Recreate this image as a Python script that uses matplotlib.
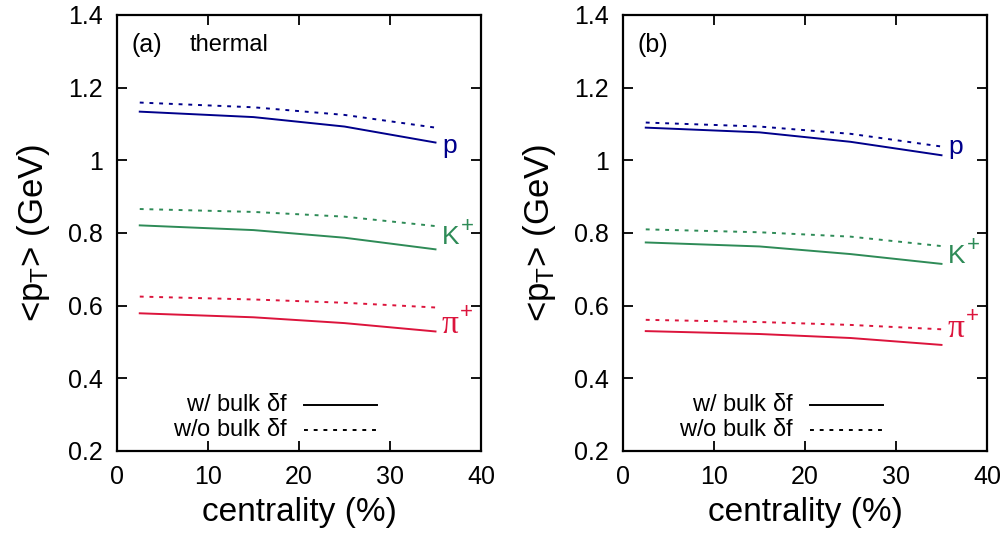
import matplotlib
matplotlib.use('Agg')
import matplotlib.pyplot as plt

plt.rcParams['font.family'] = ['Liberation Sans', 'DejaVu Sans']
plt.rcParams['mathtext.fontset'] = 'custom'
plt.rcParams['mathtext.rm'] = 'Liberation Sans'
plt.rcParams['mathtext.it'] = 'Liberation Sans'

# centrality bins (%)
cent = [2.5, 15, 25, 35]

# (a) thermal: mean pT with / without bulk delta f
a_p_bulk = [1.134, 1.119, 1.093, 1.049]
a_p_nobulk = [1.159, 1.146, 1.125, 1.090]
a_k_bulk = [0.821, 0.808, 0.787, 0.755]
a_k_nobulk = [0.866, 0.858, 0.845, 0.819]
a_pi_bulk = [0.579, 0.568, 0.552, 0.529]
a_pi_nobulk = [0.625, 0.617, 0.608, 0.595]

# (b)
b_p_bulk = [1.090, 1.077, 1.051, 1.014]
b_p_nobulk = [1.104, 1.093, 1.073, 1.038]
b_k_bulk = [0.774, 0.763, 0.742, 0.715]
b_k_nobulk = [0.810, 0.802, 0.790, 0.764]
b_pi_bulk = [0.530, 0.522, 0.511, 0.492]
b_pi_nobulk = [0.561, 0.555, 0.547, 0.535]

species = ['p', 'K', 'π']
charges = ['', '+', '+']
colors = ['#00008b', '#2e8b57', '#dc143c']
dots = (0, (2.0, 3.0))

fig = plt.figure(figsize=(10.05, 5.38), dpi=100)
ax_a = fig.add_axes([117/1005, 1-451/538, 364/1005, 436/538])
ax_b = fig.add_axes([623/1005, 1-451/538, 364/1005, 436/538])

# baseline heights of the species names next to the curve ends
label_y_a = [1.020, 0.770, 0.525]
label_y_b = [1.018, 0.718, 0.514]

panels = [
    (ax_a, [a_p_bulk, a_k_bulk, a_pi_bulk], [a_p_nobulk, a_k_nobulk, a_pi_nobulk], '(a)', label_y_a),
    (ax_b, [b_p_bulk, b_k_bulk, b_pi_bulk], [b_p_nobulk, b_k_nobulk, b_pi_nobulk], '(b)', label_y_b),
]

for ax, bulk, nobulk, tag, ly in panels:
    for yb, yn, c, name, q, y0 in zip(bulk, nobulk, colors, species, charges, ly):
        ax.plot(cent, yb, color=c, lw=1.4)
        ax.plot(cent, yn, color=c, lw=1.4, linestyle=dots)
        fam = ['Liberation Serif'] if name == 'π' else None
        t = ax.text(35.7, y0, name, color=c, fontsize=24 if fam else 19,
                    ha='left', va='baseline', family=fam)
        if q:
            ax.annotate(q, xy=(1.0, 0.72), xycoords=t, xytext=(1, 0),
                        textcoords='offset points', color=c, fontsize=16,
                        ha='left', va='baseline')
    ax.set_xlim(0, 40)
    ax.set_ylim(0.2, 1.4)
    ax.set_xticks([0, 10, 20, 30, 40])
    ax.set_yticks([0.2, 0.4, 0.6, 0.8, 1.0, 1.2, 1.4])
    ax.set_yticklabels(['0.2', '0.4', '0.6', '0.8', '1', '1.2', '1.4'])
    ax.tick_params(direction='in', length=7, width=1.3, top=True, right=True,
                   labelsize=18, pad=10)
    for s in ax.spines.values():
        s.set_linewidth(1.6)
    ax.set_xlabel('centrality (%)', fontsize=24, labelpad=6)
    ax.set_ylabel(r'<p$_{\rm T}$> (GeV)', fontsize=25, labelpad=12)
    ax.text(1.6, 1.317, tag, fontsize=18, ha='left', va='center')

    # key for line styles
    ax.plot([20.6, 28.6], [0.327, 0.327], color='black', lw=1.4)
    ax.plot([20.6, 28.6], [0.258, 0.258], color='black', lw=1.4, linestyle=dots)
    ax.text(18.8, 0.327, r'w/ bulk $\delta$f', fontsize=17, ha='right', va='center')
    ax.text(18.8, 0.258, r'w/o bulk $\delta$f', fontsize=17, ha='right', va='center')

ax_a.text(8.0, 1.317, 'thermal', fontsize=17, ha='left', va='center')

fig.savefig('out.png', dpi=100)
